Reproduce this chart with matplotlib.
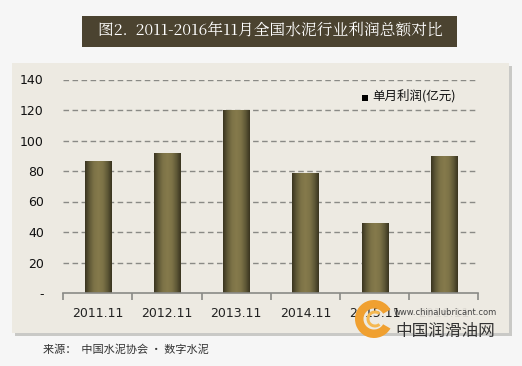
import numpy as np
import matplotlib
matplotlib.use("Agg")
import matplotlib.pyplot as plt
from matplotlib.patches import Rectangle, Wedge
from matplotlib.colors import LinearSegmentedColormap

plt.rcParams['font.family'] = ['Noto Sans CJK SC', 'DejaVu Sans']

categories = ["2011.11", "2012.11", "2013.11", "2014.11", "2015.11", "2016.11"]
profits = [86.5, 91.7, 119.7, 78.8, 45.8, 89.7]
yticks = [0, 20, 40, 60, 80, 100, 120, 140]
yticklabels = ["-", "20", "40", "60", "80", "100", "120", "140"]
title = "图2.  2011-2016年11月全国水泥行业利润总额对比"
legend_label = "单月利润(亿元)"
source = "来源：  中国水泥协会 · 数字水泥"

W, H = 522, 366
fig = plt.figure(figsize=(W / 100, H / 100), dpi=100)
fig.patch.set_facecolor("#f6f6f6")

def fx(x): return x / W
def fy(y): return 1 - y / H

# panel shadow and panel
fig.patches.append(Rectangle((fx(15), fy(336)), fx(509 - 12), (333 - 63) / H,
                             transform=fig.transFigure, facecolor="#c9c9c6", edgecolor="none", zorder=-2))
fig.patches.append(Rectangle((fx(12), fy(333)), fx(509 - 12), (333 - 63) / H,
                             transform=fig.transFigure, facecolor="#edeae2", edgecolor="none", zorder=-1))

# title box
fig.patches.append(Rectangle((fx(82), fy(47)), fx(457 - 82), (47 - 16) / H,
                             transform=fig.transFigure, facecolor="#4b4330", edgecolor="none", zorder=1))
fig.text(fx(270), fy(31.5), title, ha="center", va="center", color="white", fontsize=11.3,
         family=["Noto Serif CJK SC", "Noto Sans CJK SC", "DejaVu Serif"])

ax = fig.add_axes([fx(63.3), fy(293), fx(478.3 - 63.3), (293 - 79.5) / H])
ax.set_zorder(2)
ax.set_facecolor("none")
n = len(categories)
x = np.arange(n)

# gridlines
for t in yticks[1:]:
    ax.axhline(t, color="#8a8a86", lw=1.0, ls=(0, (4, 2.5)), zorder=1)

# bars with horizontal gradient
bw = 0.377
cmap = LinearSegmentedColormap.from_list("g", ["#3a3520", "#615a38", "#7d7347", "#857a4c", "#7d7347", "#615a38", "#3a3520"])
grad = np.linspace(0, 1, 64).reshape(1, -1)
bars = ax.bar(x, profits, width=bw, color="#7a6f45", edgecolor="#4a4429", lw=0.6, zorder=2)
for b in bars:
    x0, w, h = b.get_x(), b.get_width(), b.get_height()
    im = ax.imshow(grad, cmap=cmap, extent=(x0, x0 + w, 0, h), aspect="auto", zorder=2.5,
                   interpolation="bilinear")
    im.set_clip_path(b)
ax.set_xlim(-0.5, n - 0.5)
ax.set_ylim(0, 140)

for s in ["top", "right", "left"]:
    ax.spines[s].set_visible(False)
ax.spines["bottom"].set_color("#8a8a86")
ax.spines["bottom"].set_linewidth(1.2)

ax.set_xticks(np.arange(n + 1) - 0.5)
ax.set_xticklabels([])
ax.tick_params(axis="x", which="major", length=5, width=1.2, color="#8a8a86", direction="out")
ax.set_xticks(x, minor=True)
labels = ax.set_xticklabels(categories, minor=True, fontsize=9, color="#222222",
                            family=["DejaVu Sans"])
labels[-1].set_color("#dcd9d2")
ax.tick_params(axis="x", which="minor", length=0, pad=10)
ax.set_yticks(yticks)
ax.set_yticklabels(yticklabels, fontsize=9, color="#111111", family=["DejaVu Sans"])
ax.tick_params(axis="y", length=0, pad=14)

# legend
fig.patches.append(Rectangle((fx(362), fy(101)), fx(6), 6 / H, transform=fig.transFigure,
                             facecolor="black", edgecolor="none", zorder=3))
fig.text(fx(372), fy(96), legend_label, ha="left", va="center", fontsize=9, color="#111111", zorder=3)

# source
fig.text(fx(43), fy(350), source, ha="left", va="center", fontsize=8, color="#333333")

# watermark logo (overlay)
tr = fig.dpi_scale_trans
cx, cy = 3.74, (H - 319) / 100
fig.patches.append(Wedge((cx, cy), 0.19, 30, 330, width=0.085, transform=tr,
                         facecolor="#f0a030", edgecolor="none", zorder=4))
fig.patches.append(Wedge((cx + 0.01, cy), 0.085, 50, 310, width=0.03, transform=tr,
                         facecolor="#f5b850", edgecolor="none", zorder=4))
fig.text(fx(394), fy(312.5), "www.chinalubricant.com", fontsize=6, color="#444444", ha="left",
         va="center", zorder=5, family=["DejaVu Sans"])
fig.text(fx(395), fy(331), "中国润滑油网", fontsize=12, color="#333333", ha="left", va="center", zorder=5)

fig.savefig("out.png", dpi=100, facecolor=fig.get_facecolor())
